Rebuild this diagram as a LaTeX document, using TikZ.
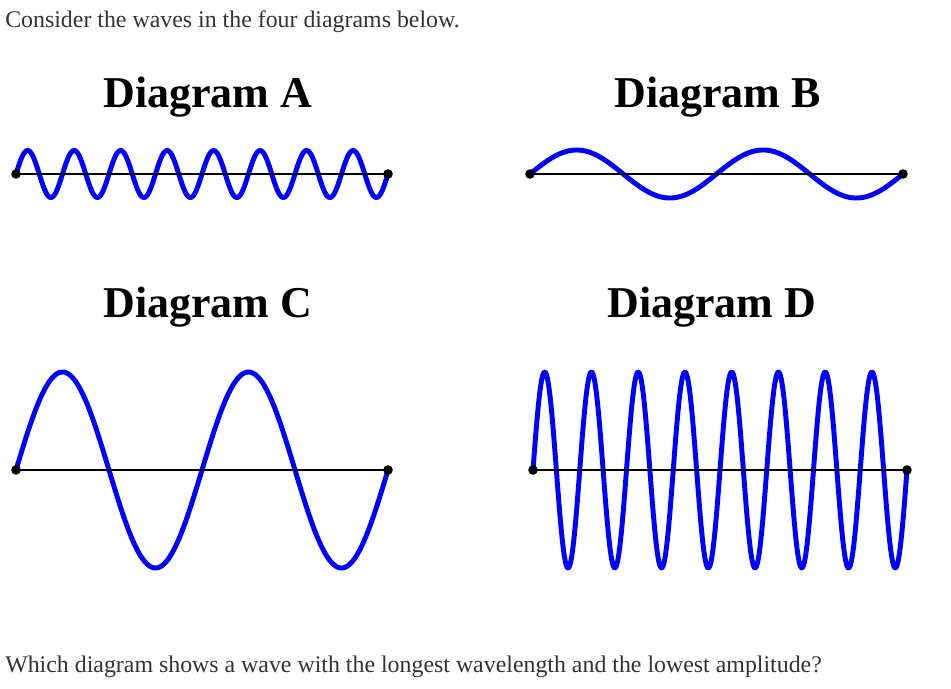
\documentclass[tikz,border=0pt]{standalone}
\usepackage{fontspec}
\setmainfont{Liberation Serif}
\definecolor{bodytext}{HTML}{333333}
\definecolor{waveblue}{RGB}{0,0,255}
\begin{document}
\begin{tikzpicture}[x=0.75pt,y=-0.75pt,
  bodylabel/.style={anchor=base west,inner sep=0pt,text=bodytext,font=\fontsize{17.9pt}{21pt}\selectfont},
  titlelabel/.style={anchor=base west,inner sep=0pt,text=black,font=\fontsize{33pt}{38pt}\selectfont\bfseries},
  wave/.style={draw=waveblue,line width=3.7pt,line cap=round,line join=round},
  axisline/.style={draw=black,line width=2pt},
  enddot/.style={fill=black}]
\useasboundingbox (0,0) rectangle (951,689);
\fill[white] (0,0) rectangle (951,689);

% texts
\node[bodylabel] (top) at (5,27) {Consider the waves in the four diagrams below.};
\node[bodylabel] (bottom) at (5,672) {Which diagram shows a wave with the longest wavelength and the lowest amplitude?};
\node[titlelabel] (tA) at (103,107) {Diagram A};
\node[titlelabel] (tB) at (614,107) {Diagram B};
\node[titlelabel] (tC) at (103,317) {Diagram C};
\node[titlelabel] (tD) at (607,317) {Diagram D};

% end points
\coordinate (aL) at (16,174);  \coordinate (aR) at (388,174);
\coordinate (bL) at (530,174); \coordinate (bR) at (903,174);
\coordinate (cL) at (16,470);  \coordinate (cR) at (388,470);
\coordinate (dL) at (533,470); \coordinate (dR) at (907,470);

% waves
\draw[wave] plot[domain=0:2880,samples=400] ({16+\x/360*46.5},{174-23.5*sin(\x)});
\draw[wave] plot[domain=0:720,samples=300] ({530+\x/360*186.5},{174-24*sin(\x)});
\draw[wave] plot[domain=0:720,samples=300] ({16+\x/360*186},{470-98*sin(\x)});
\draw[wave] plot[domain=0:2880,samples=500] ({533+\x/360*46.75},{470-98*sin(\x)});

% axes
\draw[axisline] (aL) -- (aR);
\draw[axisline] (bL) -- (bR);
\draw[axisline] (cL) -- (cR);
\draw[axisline] (dL) -- (dR);
\foreach \p in {aL,aR,bL,bR,cL,cR,dL,dR}
  \fill[enddot] (\p) circle[radius=3.6pt];
\end{tikzpicture}
\end{document}
